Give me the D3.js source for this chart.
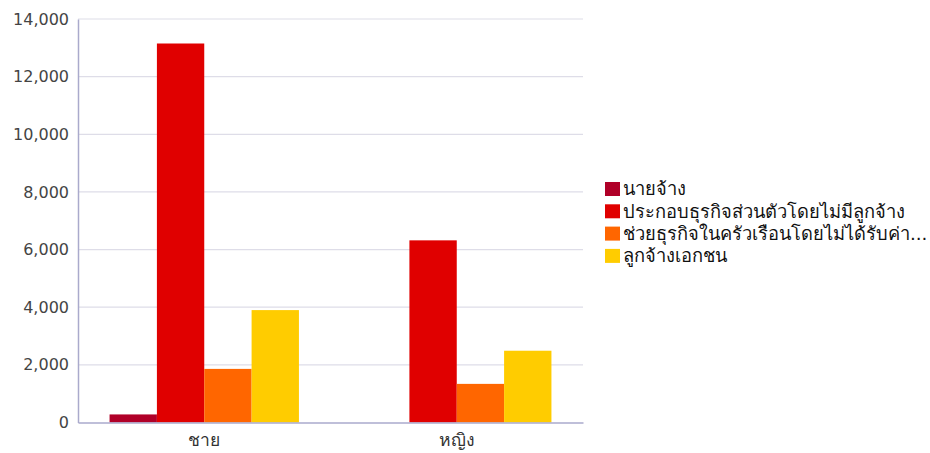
<!DOCTYPE html>
<html><head><meta charset="utf-8">
<script src="https://cdn.jsdelivr.net/npm/d3@7/dist/d3.min.js"></script>
<style>body{margin:0;background:#fff}svg{display:block}</style>
</head><body>
<script>
const categories = ["ชาย", "หญิง"];
const seriesNames = ["นายจ้าง", "ประกอบธุรกิจส่วนตัวโดยไม่มีลูกจ้าง", "ช่วยธุรกิจในครัวเรือนโดยไม่ได้รับค่า...", "ลูกจ้างเอกชน"];
const employer = [280, 0];
const ownAccount = [13150, 6320];
const familyWorker = [1860, 1340];
const privateEmployee = [3900, 2490];
const colors = ["#b00028", "#e00000", "#ff6600", "#ffcc00"];
const yTicks = [0, 2000, 4000, 6000, 8000, 10000, 12000, 14000];

const seriesValues = [employer, ownAccount, familyWorker, privateEmployee];
const W = 930, H = 453;
const m = {left: 78, right: 347, top: 19, bottom: 30.5};
const svg = d3.select("body").append("svg").attr("width", W).attr("height", H);
const font = "'DejaVu Sans', Verdana, sans-serif";

const x0 = d3.scaleBand().domain(categories).range([m.left, W - m.right]).padding(0);
const x1 = d3.scaleBand().domain(d3.range(seriesNames.length))
  .range([x0.bandwidth() * 0.125, x0.bandwidth() * 0.875]).padding(0);
const y = d3.scaleLinear().domain([0, 14000]).range([H - m.bottom, m.top]);

// gridlines
svg.append("g").selectAll("line").data(yTicks.slice(1)).join("line")
  .attr("x1", m.left).attr("x2", W - m.right)
  .attr("y1", d => y(d)).attr("y2", d => y(d))
  .attr("stroke", "#dedde8").attr("stroke-width", 1.2);

// bars
const g = svg.append("g");
categories.forEach((c, ci) => {
  seriesValues.forEach((vals, si) => {
    if (vals[ci] <= 0) return;
    g.append("rect")
      .attr("x", x0(c) + x1(si))
      .attr("width", x1.bandwidth())
      .attr("y", y(vals[ci]))
      .attr("height", y(0) - y(vals[ci]))
      .attr("fill", colors[si]);
  });
});

// y axis
const yAxis = d3.axisLeft(y).tickValues(yTicks).tickSize(0).tickPadding(9)
  .tickFormat(d3.format(","));
const ya = svg.append("g").attr("transform", `translate(${m.left},0)`).call(yAxis);
ya.select(".domain").attr("stroke", "#aaaacc").attr("stroke-width", 1.5);
ya.selectAll("text").attr("font-family", font).attr("font-size", 16).attr("fill", "#444");

// x axis
const xAxis = d3.axisBottom(x0).tickSize(0).tickPadding(11);
const xa = svg.append("g").attr("transform", `translate(0,${y(0)})`).call(xAxis);
xa.select(".domain").attr("stroke", "#aaaacc").attr("stroke-width", 1.5);
xa.selectAll("text").attr("font-family", font).attr("font-size", 17.5).attr("fill", "#333");

// legend
const lg = svg.append("g").attr("transform", "translate(605,189)");
seriesNames.forEach((n, i) => {
  const row = lg.append("g").attr("transform", `translate(0,${i * 22.3})`);
  row.append("rect").attr("x", 0).attr("y", -7).attr("width", 15).attr("height", 14).attr("fill", colors[i]);
  row.append("text").attr("x", 18).attr("y", 0).attr("dy", "0.35em")
    .attr("font-family", font).attr("font-size", 18.3).attr("fill", "#111").text(n);
});
</script>
</body></html>
